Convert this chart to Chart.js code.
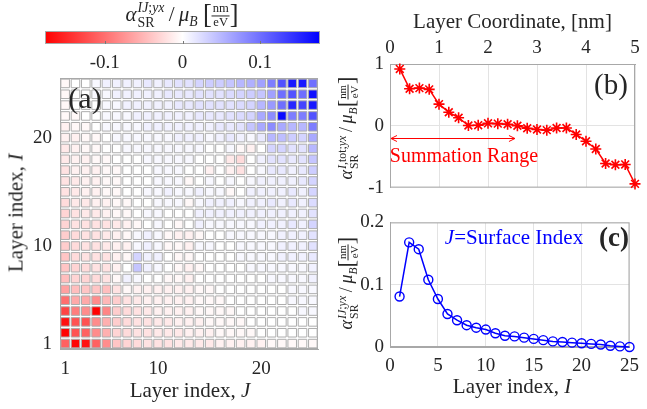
<!DOCTYPE html>
<html>
<head>
<meta charset="utf-8">
<script src="https://cdn.jsdelivr.net/npm/chart.js@4"></script>
<style>
    body { margin: 0; width: 647px; height: 409px; overflow: hidden; position: relative; background: #fff;
           font-family: "Liberation Serif", "DejaVu Serif", serif; color: #262626; }
    canvas { position: absolute; }
    .t { position: absolute; white-space: nowrap; transform: translate(-50%, -50%); line-height: 1; }
    .rot { transform: translate(-50%, -50%) rotate(-90deg); }
    .supsub { display: inline-flex; flex-direction: column; vertical-align: middle; font-size: 0.66em; line-height: 1.05; margin-left: 1px; }
    .frac { display: inline-flex; flex-direction: column; vertical-align: middle; font-size: 0.6em; text-align: center; line-height: 1.05; }
    .frac .n { border-bottom: 1px solid #262626; padding: 0 1px; }
    .brk { font-size: 1.25em; vertical-align: -2px; }
    sub { font-size: 0.65em; }
</style>
</head>
<body>
<canvas id="cbar" width="330" height="75" style="left:0px;top:0px"></canvas>
<canvas id="heat" width="330" height="347" style="left:0px;top:62px"></canvas>
<canvas id="tot" width="317" height="205" style="left:330px;top:0px"></canvas>
<canvas id="surf" width="317" height="204" style="left:330px;top:205px"></canvas>

<!-- math-style labels -->
<div class="t" style="left:182px;top:16px;font-size:21px">
    <i>α</i><span class="supsub"><span><i>IJ</i>;<i>yx</i></span><span>SR</span></span>&thinsp;/&thinsp;<i>μ</i><sub><i>B</i></sub>&nbsp;<span class="brk">[</span><span class="frac"><span class="n">nm</span><span>eV</span></span><span class="brk">]</span>
</div>
<div class="t" style="left:85px;top:98px;font-size:30px">(a)</div>
<div class="t" style="left:190px;top:390px;font-size:21px">Layer index, <i>J</i></div>
<div class="t rot" style="left:16px;top:213px;font-size:21px">Layer index, <i>I</i></div>

<div class="t" style="left:611px;top:84px;font-size:29px">(b)</div>
<div class="t" style="left:464px;top:155px;font-size:20px;color:#ff0000">Summation Range</div>
<div class="t rot" style="left:348px;top:128px;font-size:18px">
    <i>α</i><span class="supsub"><span><i>I</i>,tot;<i>yx</i></span><span>SR</span></span>&thinsp;/&thinsp;<i>μ</i><sub><i>B</i></sub><span class="brk">[</span><span class="frac"><span class="n">nm</span><span>eV</span></span><span class="brk">]</span>
</div>

<div class="t" style="left:614px;top:237px;font-size:27px;font-weight:bold">(c)</div>
<div class="t" style="left:514px;top:237px;font-size:21px;color:#0000ff"><i>J</i>=Surface Index</div>
<div class="t rot" style="left:348px;top:283px;font-size:18px">
    <i>α</i><span class="supsub"><span><i>IJ</i>;<i>yx</i></span><span>SR</span></span>&thinsp;/&thinsp;<i>μ</i><sub><i>B</i></sub><span class="brk">[</span><span class="frac"><span class="n">nm</span><span>eV</span></span><span class="brk">]</span>
</div>
<div class="t" style="left:512px;top:386px;font-size:21px">Layer index, <i>I</i></div>

<script>
// ─── Data ───────────────────────────────────────────────────────────────────
const layers = [1, 2, 3, 4, 5, 6, 7, 8, 9, 10, 11, 12, 13, 14, 15, 16, 17, 18, 19, 20, 21, 22, 23, 24, 25];

// panel (a): alpha^{IJ;yx}, rows from I = 25 (top) down to I = 1, columns J = 1..25
const heatRowsTopDown = [
    [-0.005, 0, 0, 0.005, 0.01, 0.01, 0.01, 0.01, 0.015, 0.01, 0.015, 0.02, 0.02, 0.03, 0.035, 0.035, 0.04, 0.05, 0.055, 0.065, 0.09, 0.12, 0.16, 0.16, 0.10],
    [-0.005, 0, 0, 0.005, 0.005, 0.01, 0.01, 0.01, 0.01, 0.01, 0.015, 0.015, 0.015, 0.02, 0.02, 0.02, 0.025, 0.03, 0.035, 0.04, 0.065, 0.10, 0.12, 0.10, 0.165],
    [-0.005, 0, 0, 0, 0.005, 0.005, 0.01, 0.01, 0.01, 0.01, 0.01, 0.015, 0.015, 0.02, 0.02, 0.02, 0.02, 0.025, 0.03, 0.05, 0.07, 0.10, 0.15, 0.13, 0.16],
    [-0.005, -0.005, 0, 0, 0.005, 0.005, 0.005, 0.01, 0.01, 0.01, 0.01, 0.01, 0.01, 0.015, 0.015, 0.015, 0.02, 0.025, 0.03, 0.06, 0.08, 0.17, 0.09, 0.09, 0.12],
    [-0.01, -0.005, -0.005, 0, 0.005, 0.005, 0.005, 0.005, 0.01, 0.01, 0.01, 0.01, 0.01, 0.01, 0.01, 0.015, 0.015, 0.02, 0.04, 0.06, 0.08, 0.06, 0.05, 0.05, 0.09],
    [-0.01, -0.01, -0.005, -0.005, 0, 0.005, 0.005, 0.005, 0.005, 0.005, 0.005, 0.01, 0.01, 0.01, 0.005, 0.01, 0.015, 0.01, 0.005, 0.015, 0.05, 0.045, 0.035, 0.03, 0.06],
    [-0.015, -0.01, -0.005, -0.005, 0, 0, 0.005, 0.005, 0.005, 0.005, 0.005, 0.005, 0.005, 0.005, 0, 0, 0.005, -0.005, -0.01, 0, 0.03, 0.03, 0.02, 0.02, 0.05],
    [-0.015, -0.01, -0.01, -0.005, -0.005, 0, 0, 0, 0.005, 0.005, 0.005, 0.005, 0.005, 0, 0, 0, -0.015, -0.025, 0, 0.01, 0.02, 0.02, 0.015, 0.02, 0.04],
    [-0.02, -0.01, -0.01, -0.01, -0.005, -0.005, 0, 0, 0, 0.005, 0.005, 0.005, 0, 0, -0.01, 0, -0.01, -0.02, 0, 0.005, 0.015, 0.015, 0.01, 0.015, 0.035],
    [-0.02, -0.015, -0.01, -0.01, -0.005, -0.005, 0, 0, 0, 0.005, 0.005, 0.005, -0.005, 0, 0.005, 0, 0.005, 0, 0.005, 0.01, 0.01, 0.01, 0.01, 0.015, 0.03],
    [-0.02, -0.015, -0.01, -0.01, -0.005, -0.005, 0, 0, 0.005, 0.005, 0.01, 0.005, 0.005, 0.01, 0.005, 0.005, -0.005, 0, 0.01, 0.01, 0.01, 0.01, 0.015, 0.01, 0.03],
    [-0.025, -0.015, -0.015, -0.01, -0.01, -0.005, -0.005, 0, 0, 0.005, 0.005, 0.005, -0.005, 0.005, 0.01, 0.01, 0.01, 0.005, 0.01, 0.01, 0.015, 0.01, 0.015, 0.01, 0.025],
    [-0.03, -0.02, -0.015, -0.015, -0.01, -0.005, -0.005, 0, 0.005, 0.005, 0, 0, 0, 0.01, 0.01, 0.01, 0.01, 0.01, 0.01, 0.01, 0.01, 0.01, 0.01, 0.01, 0.02],
    [-0.03, -0.02, -0.02, -0.02, -0.02, -0.015, -0.01, -0.005, 0, 0.005, 0, -0.005, 0, 0.01, 0.005, 0.005, 0.005, 0.005, 0.005, 0.01, 0.01, 0.01, 0.015, 0.01, 0.03],
    [-0.035, -0.025, -0.02, -0.02, -0.015, -0.01, -0.005, 0.005, 0.01, 0.005, -0.005, -0.01, -0.01, -0.005, 0, 0, 0.005, 0.005, 0.005, 0.005, 0.005, 0.01, 0.01, 0.01, 0.02],
    [-0.035, -0.025, -0.02, -0.02, -0.015, -0.01, -0.01, 0.005, 0.01, 0.005, -0.005, -0.005, -0.01, 0.005, 0.005, 0, 0, 0.005, 0.005, 0.005, 0.005, 0.01, 0.01, 0.01, 0.02],
    [-0.04, -0.025, -0.02, -0.02, -0.02, -0.01, -0.005, 0.03, 0.01, 0.01, 0, -0.005, -0.005, 0, 0, 0, 0, 0.005, 0.005, 0.005, 0.005, 0.01, 0.01, 0.01, 0.015],
    [-0.04, -0.03, -0.025, -0.02, -0.02, -0.01, 0, 0.04, 0.01, 0.005, 0, -0.005, -0.01, -0.005, 0, 0, 0, 0, 0.005, 0.005, 0.005, 0.005, 0.005, 0.005, 0.01],
    [-0.045, -0.03, -0.03, -0.025, -0.02, -0.005, 0.01, 0.005, 0, 0, -0.005, -0.005, -0.01, 0, 0, 0, 0, 0, 0, 0, 0.005, 0.005, 0.005, 0.005, 0.01],
    [-0.065, -0.045, -0.04, -0.04, -0.045, -0.02, -0.005, -0.01, -0.01, -0.01, -0.01, -0.01, -0.01, -0.005, -0.005, 0, 0, 0, 0, 0, 0, 0, 0.005, 0.005, 0.005],
    [-0.10, -0.06, -0.06, -0.08, -0.05, -0.035, -0.02, -0.015, -0.01, -0.01, -0.01, -0.01, -0.01, -0.005, -0.005, -0.005, 0, 0, 0, 0, 0, 0, 0.005, 0.005, 0.005],
    [-0.13, -0.09, -0.08, -0.175, -0.085, -0.035, -0.025, -0.02, -0.015, -0.01, -0.01, -0.01, -0.01, -0.005, -0.005, -0.005, -0.005, 0, 0, 0, 0, 0, 0, 0.005, 0.005],
    [-0.165, -0.12, -0.12, -0.08, -0.055, -0.035, -0.025, -0.02, -0.02, -0.015, -0.015, -0.01, -0.01, -0.01, -0.005, -0.005, -0.005, -0.005, 0, 0, 0, 0, 0, 0, 0],
    [-0.175, -0.12, -0.11, -0.08, -0.055, -0.03, -0.025, -0.02, -0.02, -0.015, -0.015, -0.015, -0.01, -0.01, -0.01, -0.005, -0.005, -0.005, -0.005, 0, 0, 0, 0, 0, 0],
    [-0.11, -0.175, -0.165, -0.11, -0.08, -0.04, -0.03, -0.025, -0.02, -0.02, -0.02, -0.015, -0.015, -0.015, -0.015, -0.01, -0.01, -0.01, -0.01, -0.01, -0.005, -0.005, -0.005, -0.005, -0.005]
];
const heatTicks = [1, 10, 20];
const cbarTicks = [-0.1, 0, 0.1];
const cbarLimit = 0.177;

// panel (b): total per layer vs layer coordinate
const layerCoord = [0.2, 0.4, 0.6, 0.8, 1.0, 1.2, 1.4, 1.6, 1.8, 2.0, 2.2, 2.4, 2.6, 2.8, 3.0, 3.2, 3.4, 3.6, 3.8, 4.0, 4.2, 4.4, 4.6, 4.8, 5.0];
const totValues = [0.92, 0.60, 0.61, 0.59, 0.35, 0.22, 0.13, 0.005, 0.01, 0.04, 0.035, 0.025, 0.0, -0.04, -0.06, -0.07, -0.035, -0.035, -0.14, -0.25, -0.375, -0.61, -0.63, -0.625, -0.94];
const coordTicks = [0, 1, 2, 3, 4, 5];
const totTicks = [-1, 0, 1];
const rangeStart = 0.02, rangeEnd = 2.55, rangeLevel = -0.19;

// panel (c): J = surface index
const surfValues = [0.081, 0.168, 0.157, 0.108, 0.077, 0.053, 0.043, 0.035, 0.031, 0.028, 0.022, 0.018, 0.017, 0.015, 0.013, 0.011, 0.009, 0.008, 0.007, 0.006, 0.005, 0.004, 0.002, 0.001, 0.0];
const indexTicks = [0, 5, 10, 15, 20, 25];
const surfTicks = [0, 0.1, 0.2];

// ─── Helpers ────────────────────────────────────────────────────────────────
const INK = '#262626';
const GRID = '#e3e3e3';
const FRAME = '#a8a8a8';
const tickFont = { family: 'Liberation Serif', size: 19 };

const cmap = v => {
    const f = Math.min(Math.abs(v) / cbarLimit, 1);
    const c = Math.round(255 * (1 - f));
    return v >= 0 ? `rgb(${c},${c},255)` : `rgb(255,${c},${c})`;
};
const fixTicks = list => scale => { scale.ticks = list.map(v => ({ value: v })); };
const fmt = v => String(v);

const framePlugin = {
    id: 'frame',
    beforeDatasetsDraw(chart) {
        const { ctx, chartArea: a } = chart;
        ctx.save();
        ctx.strokeStyle = FRAME;
        ctx.lineWidth = 1;
        ctx.strokeRect(a.left + 0.5, a.top + 0.5, a.width - 1, a.height - 1);
        ctx.restore();
    }
};

const base = { responsive: false, animation: false, events: [], plugins: { legend: { display: false }, tooltip: { enabled: false } } };

// ─── Colorbar ───────────────────────────────────────────────────────────────
new Chart(document.getElementById('cbar'), {
    type: 'scatter',
    data: { datasets: [] },
    options: {
        ...base,
        layout: { padding: { left: 45, right: 10, top: 31 } },
        scales: {
            x: {
                type: 'linear', min: -cbarLimit, max: cbarLimit,
                afterBuildTicks: fixTicks(cbarTicks),
                afterFit: s => { s.height = 31; },
                grid: { display: false }, border: { display: false },
                ticks: { font: tickFont, color: INK, padding: 0, callback: fmt }
            },
            y: { display: false, min: 0, max: 1 }
        }
    },
    plugins: [{
        id: 'gradient',
        beforeDraw(chart) {
            const { ctx, chartArea: a, scales: { x } } = chart;
            const g = ctx.createLinearGradient(a.left, 0, a.right, 0);
            g.addColorStop(0, cmap(-cbarLimit));
            g.addColorStop((x.getPixelForValue(0) - a.left) / a.width, '#ffffff');
            g.addColorStop(1, cmap(cbarLimit));
            ctx.save();
            ctx.fillStyle = g;
            ctx.fillRect(a.left, a.top, a.width, a.height);
            ctx.strokeStyle = FRAME;
            ctx.strokeRect(a.left + 0.5, a.top + 0.5, a.width - 1, a.height - 1);
            ctx.strokeStyle = '#777';
            cbarTicks.forEach(v => {
                const px = Math.round(x.getPixelForValue(v)) + 0.5;
                ctx.beginPath();
                ctx.moveTo(px, a.bottom);
                ctx.lineTo(px, a.bottom - 3);
                ctx.stroke();
            });
            ctx.restore();
        }
    }]
});

// ─── Panel (a): heatmap ─────────────────────────────────────────────────────
const heatPoints = [];
heatRowsTopDown.forEach((row, r) => {
    row.forEach((v, c) => heatPoints.push({ x: layers[c], y: layers[layers.length - 1 - r], v }));
});

new Chart(document.getElementById('heat'), {
    type: 'scatter',
    data: {
        datasets: [{
            data: heatPoints,
            pointStyle: 'rect',
            pointRadius: ctx => {
                const a = ctx.chart.chartArea;
                return a ? (a.width / layers.length) * 0.83 / Math.SQRT2 : 5;
            },
            backgroundColor: ctx => cmap(ctx.raw ? ctx.raw.v : 0),
            borderColor: '#adadad',
            borderWidth: 1
        }]
    },
    options: {
        ...base,
        layout: { padding: { top: 16, right: 12 } },
        scales: {
            x: {
                type: 'linear', min: 0.5, max: 25.5,
                afterBuildTicks: fixTicks(heatTicks),
                afterFit: s => { s.height = 60; },
                grid: { display: false }, border: { color: FRAME },
                ticks: { font: tickFont, color: INK, padding: 1, callback: fmt }
            },
            y: {
                type: 'linear', min: 0.5, max: 25.5,
                afterBuildTicks: fixTicks(heatTicks),
                afterFit: s => { s.width = 60; },
                grid: { display: false }, border: { color: FRAME },
                ticks: { font: tickFont, color: INK, padding: 0, callback: fmt }
            }
        }
    },
    plugins: [framePlugin]
});

// ─── Panel (b): per-layer total ─────────────────────────────────────────────
new Chart(document.getElementById('tot'), {
    type: 'line',
    data: {
        labels: layerCoord,
        datasets: [{
            data: layerCoord.map((x, i) => ({ x, y: totValues[i] })),
            borderColor: '#ff0000',
            borderWidth: 1.5,
            pointStyle: 'star',
            pointRadius: 5.5,
            pointBorderWidth: 1.6,
            pointBorderColor: '#ff0000',
            tension: 0,
            clip: false
        }]
    },
    options: {
        ...base,
        layout: { padding: { right: 12, bottom: 13 } },
        scales: {
            x: {
                type: 'linear', position: 'top', min: 0, max: 5,
                afterBuildTicks: fixTicks(coordTicks),
                afterFit: s => { s.height = 64; },
                grid: { color: GRID, drawTicks: false }, border: { color: FRAME },
                ticks: { font: tickFont, color: INK, padding: 5, callback: fmt },
                title: { display: true, text: 'Layer Coordinate, [nm]', color: INK,
                         font: { family: 'Liberation Serif', size: 21 }, padding: { top: 10, bottom: 0 } }
            },
            y: {
                type: 'linear', min: -1, max: 1,
                afterBuildTicks: fixTicks(totTicks),
                afterFit: s => { s.width = 60; },
                grid: { color: GRID, drawTicks: false }, border: { color: FRAME },
                ticks: { font: tickFont, color: INK, padding: 6, callback: fmt }
            }
        }
    },
    plugins: [framePlugin, {
        id: 'rangeArrow',
        afterDatasetsDraw(chart) {
            const { ctx, scales: { x, y } } = chart;
            const x0 = x.getPixelForValue(rangeStart), x1 = x.getPixelForValue(rangeEnd);
            const py = Math.round(y.getPixelForValue(rangeLevel)) + 0.5;
            ctx.save();
            ctx.strokeStyle = '#ff0000';
            ctx.lineWidth = 1;
            ctx.beginPath();
            ctx.moveTo(x0, py); ctx.lineTo(x1, py);
            ctx.moveTo(x0 + 6, py - 3); ctx.lineTo(x0, py); ctx.lineTo(x0 + 6, py + 3);
            ctx.moveTo(x1 - 6, py - 3); ctx.lineTo(x1, py); ctx.lineTo(x1 - 6, py + 3);
            ctx.stroke();
            ctx.restore();
        }
    }]
});

// ─── Panel (c): J = surface index ───────────────────────────────────────────
new Chart(document.getElementById('surf'), {
    type: 'line',
    data: {
        labels: layers,
        datasets: [{
            data: layers.map((x, i) => ({ x, y: surfValues[i] })),
            borderColor: '#0000ff',
            borderWidth: 1.5,
            pointStyle: 'circle',
            pointRadius: 4.5,
            pointBorderWidth: 1.4,
            pointBorderColor: '#0000ff',
            pointBackgroundColor: 'rgba(0,0,0,0)',
            tension: 0,
            clip: false
        }]
    },
    options: {
        ...base,
        layout: { padding: { top: 14, right: 11 } },
        scales: {
            x: {
                type: 'linear', min: 0, max: 25,
                afterBuildTicks: fixTicks(indexTicks),
                afterFit: s => { s.height = 62; },
                grid: { color: GRID, drawTicks: false }, border: { color: FRAME },
                ticks: { font: tickFont, color: INK, padding: 8, callback: fmt }
            },
            y: {
                type: 'linear', min: 0, max: 0.2,
                afterBuildTicks: fixTicks(surfTicks),
                afterFit: s => { s.width = 60; },
                grid: { color: GRID, drawTicks: false }, border: { color: FRAME },
                ticks: { font: tickFont, color: INK, padding: 6, callback: fmt }
            }
        }
    },
    plugins: [framePlugin]
});
</script>
</body>
</html>
